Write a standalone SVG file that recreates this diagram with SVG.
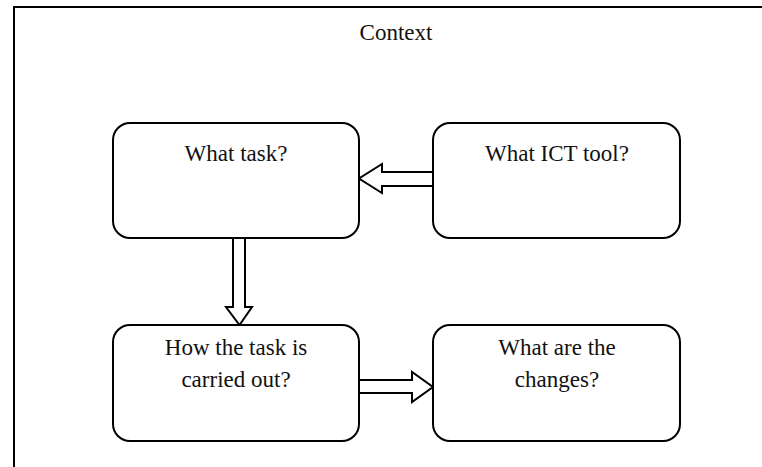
<svg xmlns="http://www.w3.org/2000/svg" width="762" height="467" viewBox="0 0 762 467">
<style>
.box{fill:#fff;stroke:#000;stroke-width:2}
.arr{fill:#fff;stroke:#000;stroke-width:2;stroke-linejoin:miter}
.t{font-family:"Liberation Serif","Times New Roman",serif;font-size:23px;fill:#111;text-anchor:middle}
</style>
<rect width="762" height="467" fill="#fff"/>
<g id="frame">
<path d="M14 467 V7 H762" fill="none" stroke="#000" stroke-width="2"/>
<text class="t" x="396" y="40">Context</text>
</g>
<g id="connectors">
<path class="arr" d="M433 172 H382 V164 L359 178.5 L382 193 V186 H433"/>
<path class="arr" d="M233 238 V307 H226 L239.5 325 L252 307 H245 V238"/>
<path class="arr" d="M359 380 H412 V372 L433 387 L412 402 V393 H359"/>
</g>
<g id="task">
<rect class="box" x="113" y="123" width="246" height="115" rx="17"/>
<text class="t" x="236" y="161">What task?</text>
</g>
<g id="tool">
<rect class="box" x="433" y="123" width="247" height="115" rx="17"/>
<text class="t" x="557" y="161">What ICT tool?</text>
</g>
<g id="how">
<rect class="box" x="113" y="325" width="246" height="116" rx="17"/>
<text class="t" x="236" y="355">How the task is</text>
<text class="t" x="236" y="387">carried out?</text>
</g>
<g id="changes">
<rect class="box" x="433" y="325" width="247" height="116" rx="17"/>
<text class="t" x="557" y="355">What are the</text>
<text class="t" x="557" y="387">changes?</text>
</g>
</svg>
